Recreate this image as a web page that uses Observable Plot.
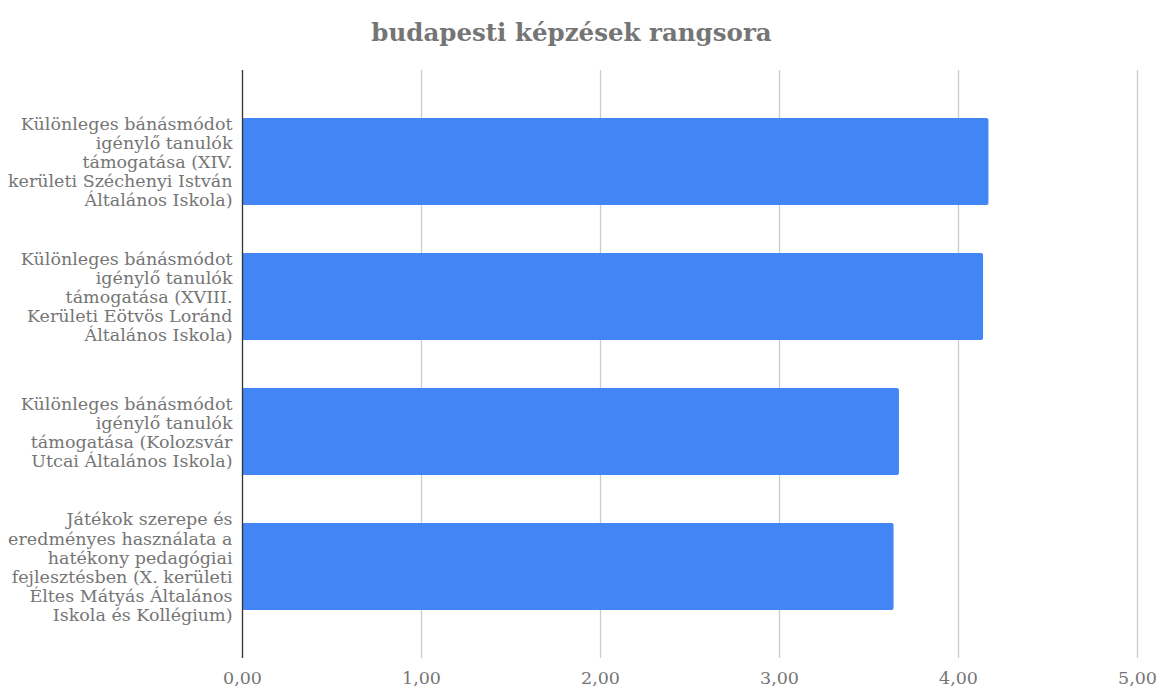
<!DOCTYPE html>
<html>
<head>
<meta charset="utf-8">
<script src="https://cdn.jsdelivr.net/npm/d3@7"></script>
<script src="https://cdn.jsdelivr.net/npm/@observablehq/plot@0.6"></script>
<style>
  html, body { margin: 0; padding: 0; background: #fff; }
  #title { height: 60px; width: 1143px; text-align: center; font-family: "DejaVu Serif", serif; font-weight: bold; font-size: 24.5px; color: #757575; line-height: 66px; }
</style>
</head>
<body>
<div id="title">budapesti képzések rangsora</div>
<div id="chart"></div>
<script>
const categories = [
  "Különleges bánásmódot\nigénylő tanulók\ntámogatása (XIV.\nkerületi Széchenyi István\nÁltalános Iskola)",
  "Különleges bánásmódot\nigénylő tanulók\ntámogatása (XVIII.\nKerületi Eötvös Loránd\nÁltalános Iskola)",
  "Különleges bánásmódot\nigénylő tanulók\ntámogatása (Kolozsvár\nUtcai Általános Iskola)",
  "Játékok szerepe és\neredményes használata a\nhatékony pedagógiai\nfejlesztésben (X. kerületi\nÉltes Mátyás Általános\nIskola és Kollégium)"
];
const values = [4.17, 4.14, 3.67, 3.64];
const xTicks = [0, 1, 2, 3, 4, 5];

const data = categories.map((c, i) => ({name: c, value: values[i]}));
const fmt = d => d.toFixed(2).replace(".", ",");

const chart = Plot.plot({
  width: 1159,
  height: 628,
  marginLeft: 242,
  marginRight: 22,
  marginTop: 10,
  marginBottom: 30,
  style: {fontFamily: "DejaVu Serif, serif", fontSize: "17.5px", color: "#757575", background: "#fff"},
  x: {domain: [0, 5], ticks: xTicks, tickFormat: fmt, label: null},
  y: {type: "band", domain: categories, range: [33, 574], paddingInner: 0.357, paddingOuter: 0.1785, label: null},
  marks: [
    Plot.gridX(xTicks.filter(d => d > 0), {stroke: "#cccccc", strokeOpacity: 1, strokeWidth: 1.3}),
    Plot.barX(data, {x: "value", y: "name", fill: "#4285f4", rx: 2}),
    Plot.ruleX([0], {stroke: "#333333", strokeWidth: 1.3}),
    Plot.axisX({ticks: xTicks, tickFormat: fmt, tickSize: 0, tickPadding: 13, fontSize: 17.5, fill: "#757575", label: null}),
    Plot.axisY({tickSize: 0, tickPadding: 10, fontSize: 17.5, fill: "#757575", lineHeight: 1.09, label: null, textOverflow: null, lineWidth: Infinity})
  ]
});
document.getElementById("chart").appendChild(chart);
</script>
</body>
</html>
